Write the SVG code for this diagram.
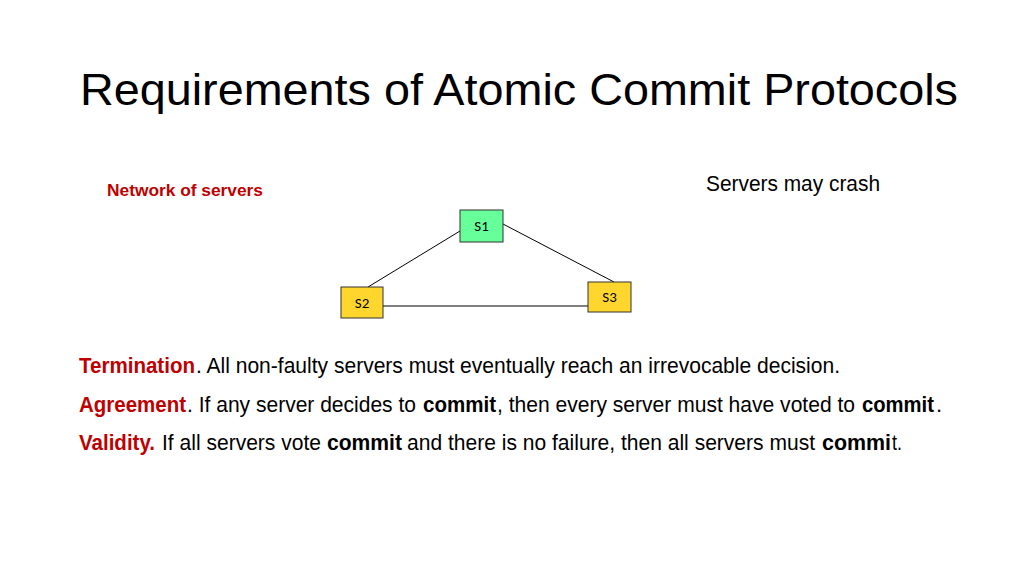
<svg xmlns="http://www.w3.org/2000/svg" width="1024" height="576" viewBox="0 0 1024 576">
<style>
text{font-family:"Liberation Sans",Arial,sans-serif}
.node rect{stroke:#333;stroke-width:1}
.node text{font-family:Calibri,"Carlito","Liberation Sans",sans-serif;font-size:15px;text-anchor:middle}
.body text{font-size:22px;fill:#000}
.body .red{fill:#c00000;font-weight:bold}
.body .b{font-weight:bold}
#connectors line{stroke:#000;stroke-width:1}
</style>
<rect width="1024" height="576" fill="#fff"/>
<text x="80" y="105" font-size="44" textLength="878" lengthAdjust="spacingAndGlyphs">Requirements of Atomic Commit Protocols</text>
<text x="107" y="196" font-size="17" fill="#c00000" font-weight="bold" textLength="156" lengthAdjust="spacingAndGlyphs">Network of servers</text>
<text x="706" y="191" font-size="22" textLength="174" lengthAdjust="spacingAndGlyphs">Servers may crash</text>
<g id="connectors">
<line x1="368" y1="287" x2="460" y2="231"/>
<line x1="503" y1="224" x2="614" y2="282"/>
<line x1="383" y1="306" x2="588" y2="306"/>
</g>
<g id="S1" class="node"><rect x="460" y="210" width="43" height="32" fill="#66ff99"/><text x="481.5" y="231">S1</text></g>
<g id="S2" class="node"><rect x="341" y="287" width="42" height="31" fill="#ffd62e"/><text x="362" y="308">S2</text></g>
<g id="S3" class="node"><rect x="588" y="282" width="43" height="30" fill="#ffd62e"/><text x="609.5" y="302">S3</text></g>
<g class="body">
<text class="red" x="79" y="373" textLength="116" lengthAdjust="spacingAndGlyphs">Termination</text>
<text x="196" y="373" textLength="644" lengthAdjust="spacingAndGlyphs">. All non-faulty servers must eventually reach an irrevocable decision.</text>
<text class="red" x="79" y="412" textLength="107" lengthAdjust="spacingAndGlyphs">Agreement</text>
<text x="187" y="412" textLength="229" lengthAdjust="spacingAndGlyphs">. If any server decides to</text>
<text class="b" x="423" y="412" textLength="73" lengthAdjust="spacingAndGlyphs">commit</text>
<text x="497" y="412" textLength="358" lengthAdjust="spacingAndGlyphs">, then every server must have voted to</text>
<text class="b" x="862" y="412" textLength="72" lengthAdjust="spacingAndGlyphs">commit</text>
<text x="936" y="412">.</text>
<text class="red" x="79" y="450" textLength="76" lengthAdjust="spacingAndGlyphs">Validity.</text>
<text x="162" y="450" textLength="159" lengthAdjust="spacingAndGlyphs">If all servers vote</text>
<text class="b" x="327" y="450" textLength="75" lengthAdjust="spacingAndGlyphs">commit</text>
<text x="407" y="450" textLength="408" lengthAdjust="spacingAndGlyphs">and there is no failure, then all servers must</text>
<text class="b" x="822" y="450" textLength="69" lengthAdjust="spacingAndGlyphs">commi</text>
<text x="892" y="450" textLength="10" lengthAdjust="spacingAndGlyphs">t.</text>
</g>
</svg>
